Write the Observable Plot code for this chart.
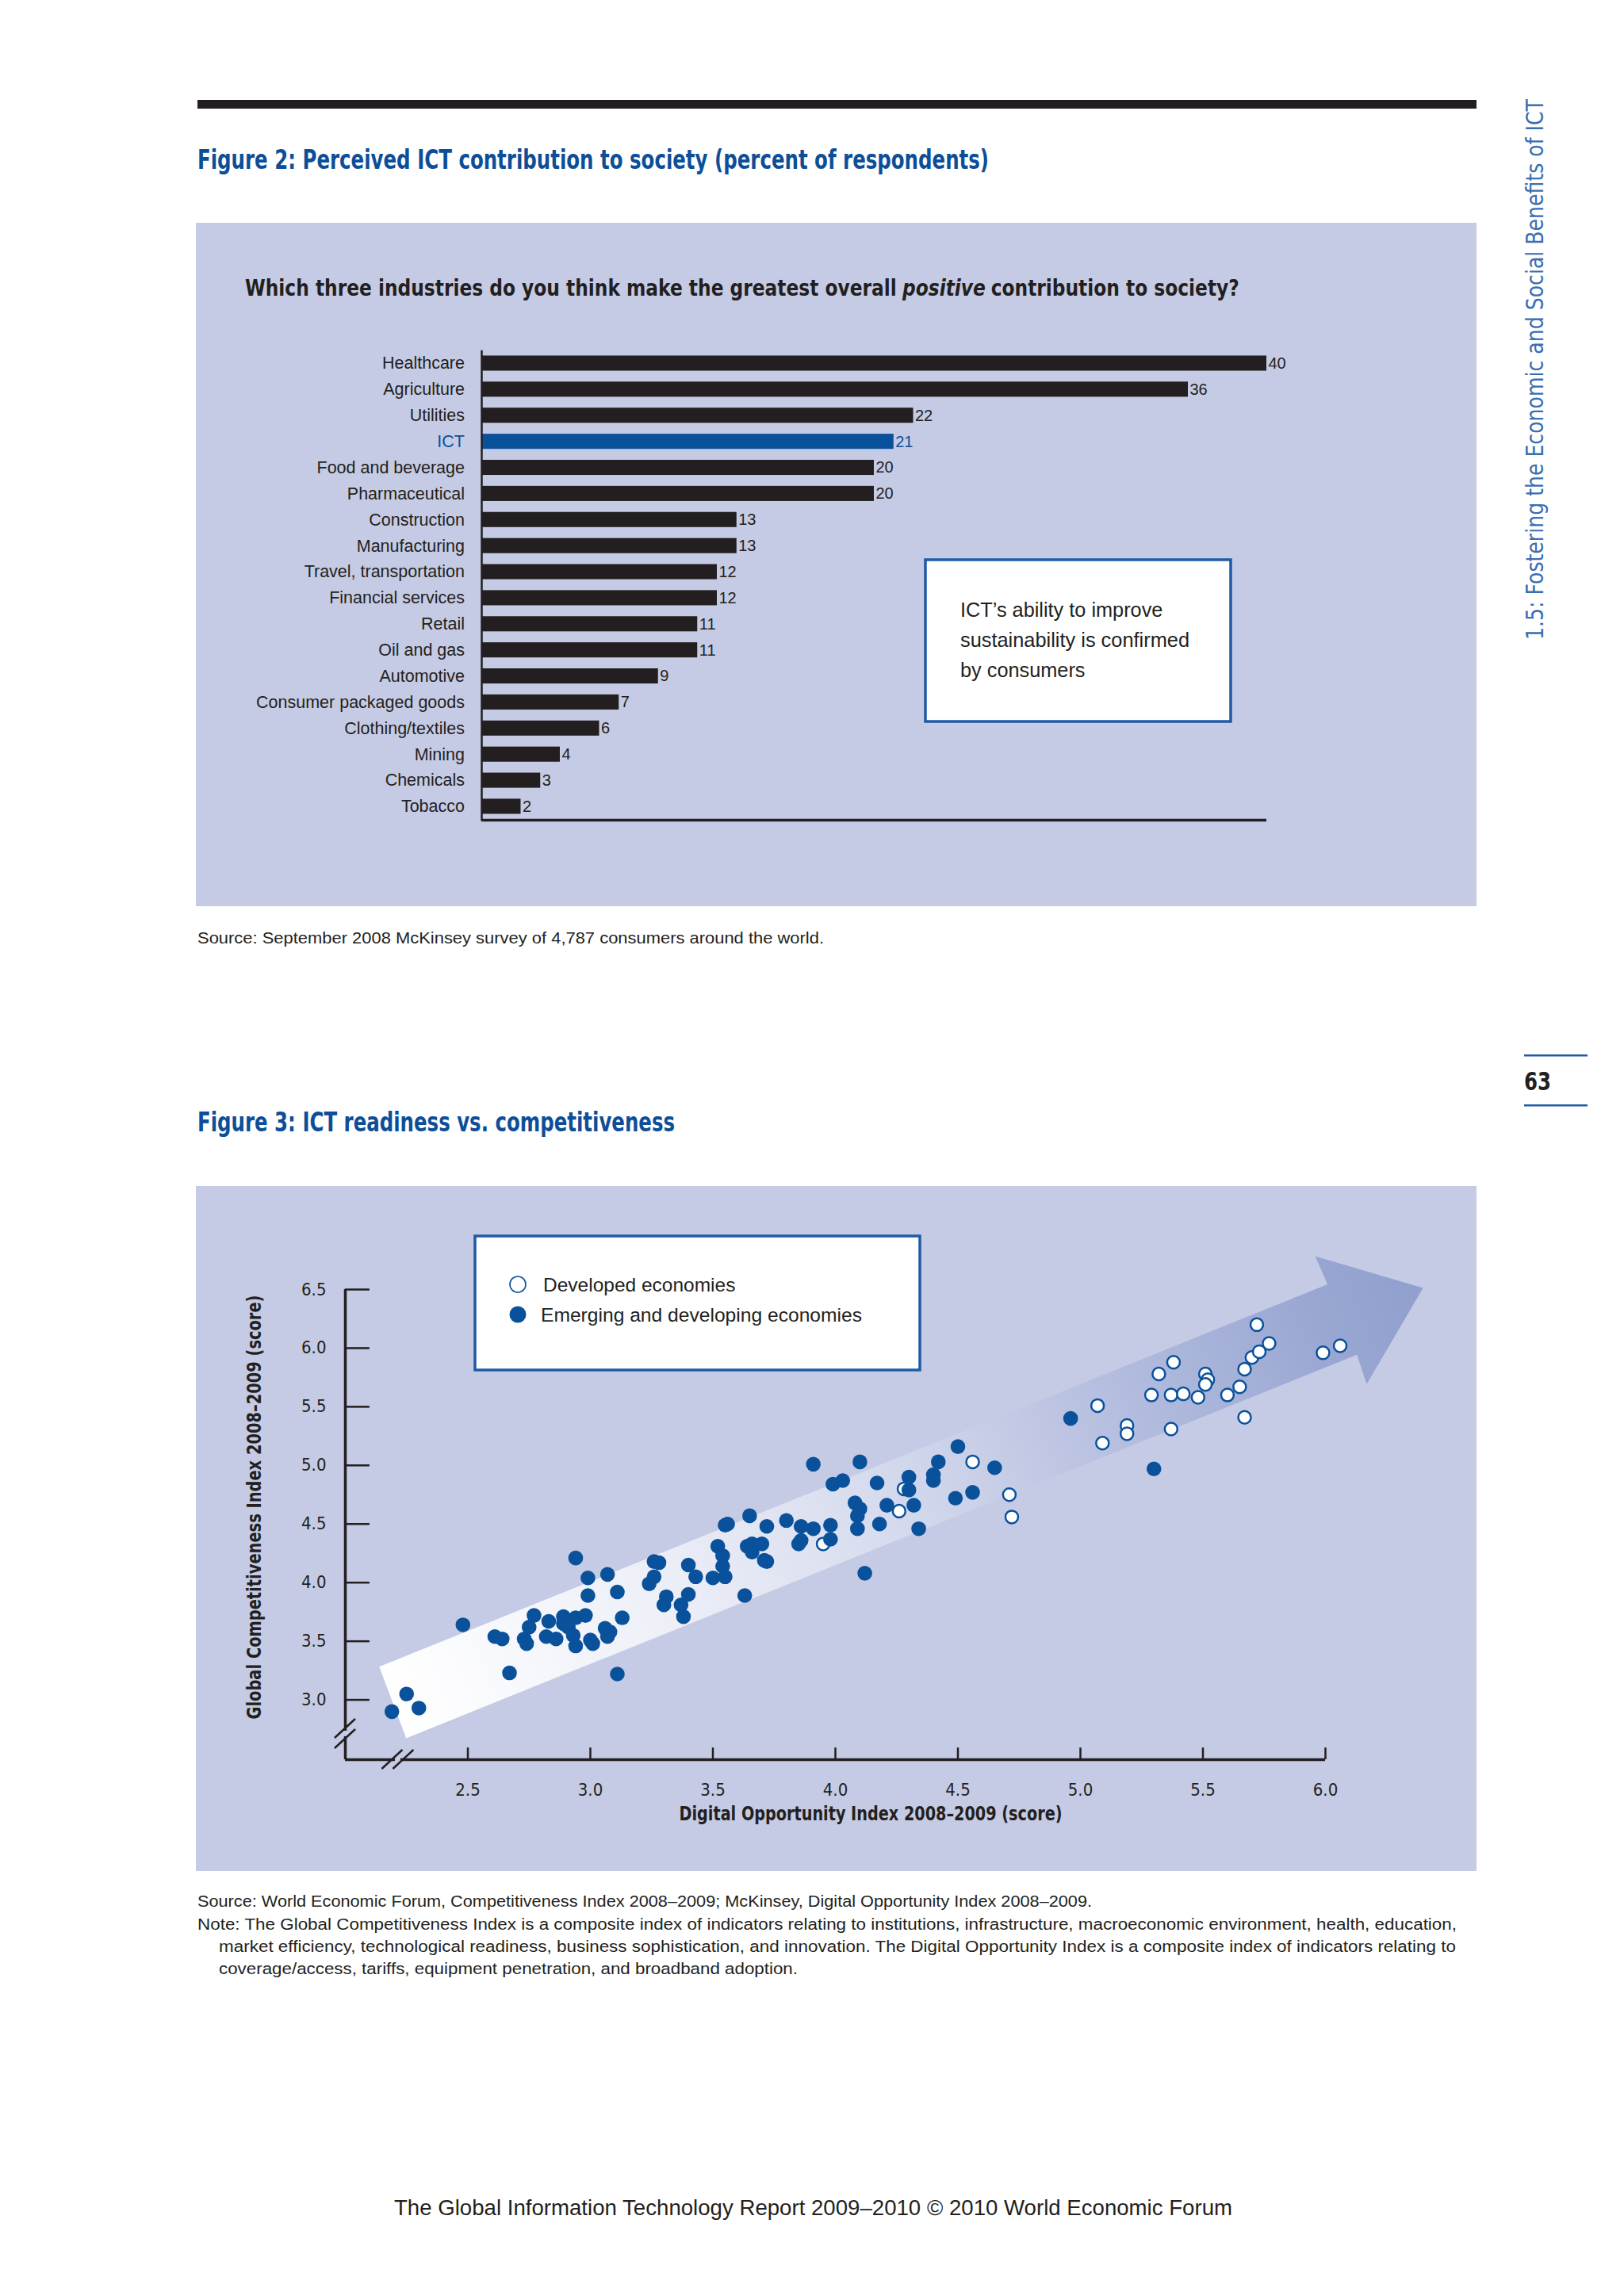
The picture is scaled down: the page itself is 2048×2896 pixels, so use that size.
<!DOCTYPE html>
<html><head><meta charset="utf-8">
<script src="https://cdn.jsdelivr.net/npm/d3@7"></script>
<script src="https://cdn.jsdelivr.net/npm/@observablehq/plot@0.6"></script>
<style>
html,body{margin:0;padding:0;background:#fff;}
#page{position:relative;width:2048px;height:2896px;overflow:hidden;background:#fff;}
.abs{position:absolute;}
</style></head><body><div id="page"></div>
<script>
// ---------- Figure 2 data ----------
const industries = ["Healthcare","Agriculture","Utilities","ICT","Food and beverage","Pharmaceutical","Construction","Manufacturing","Travel, transportation","Financial services","Retail","Oil and gas","Automotive","Consumer packaged goods","Clothing/textiles","Mining","Chemicals","Tobacco"];
const shares = [40,36,22,21,20,20,13,13,12,12,11,11,9,7,6,4,3,2];
const highlighted = "ICT";

// ---------- Figure 3 data ----------
const developedDOI = [3.95,4.26,4.28,4.56,4.71,4.72,5.07,5.09,5.19,5.19,5.37,5.29,5.32,5.38,5.37,5.42,5.48,5.51,5.52,5.51,5.60,5.65,5.67,5.67,5.70,5.73,5.72,5.77,5.99,6.06];
const developedGCI = [4.33,4.61,4.80,5.03,4.75,4.56,5.51,5.19,5.34,5.27,5.31,5.60,5.78,5.88,5.60,5.61,5.58,5.78,5.73,5.69,5.60,5.67,5.41,5.82,5.92,5.97,6.20,6.04,5.96,6.02];
const emergingDOI = [2.19,2.25,2.30,2.48,2.61,2.64,2.67,2.73,2.74,2.75,2.77,2.82,2.83,2.86,2.89,2.89,2.91,2.93,2.94,2.94,2.98,2.94,2.99,2.99,3.00,3.01,3.07,3.06,3.08,3.07,3.11,3.13,3.11,3.26,3.28,3.26,3.24,3.31,3.30,3.40,3.43,3.40,3.37,3.38,3.50,3.52,3.54,3.54,3.55,3.55,3.56,3.63,3.65,3.64,3.66,3.66,3.70,3.71,3.72,3.72,3.80,3.86,3.91,3.86,3.85,3.91,3.98,3.98,3.99,4.03,4.10,4.08,4.10,4.09,4.09,4.12,4.17,4.18,4.21,4.30,4.30,4.32,4.34,4.40,4.40,4.42,4.50,4.49,4.56,4.65,4.96,5.30];
const emergingGCI = [2.90,3.05,2.93,3.64,3.54,3.52,3.23,3.52,3.48,3.62,3.72,3.54,3.67,3.52,3.71,3.65,3.62,3.55,3.46,3.70,3.72,4.21,4.04,3.89,3.51,3.48,4.07,3.61,3.58,3.54,3.92,3.70,3.22,4.18,4.17,4.05,3.99,3.88,3.81,4.15,4.05,3.90,3.81,3.71,4.04,4.31,4.23,4.14,4.05,4.49,4.50,3.89,4.57,4.31,4.33,4.26,4.33,4.19,4.18,4.48,4.53,4.48,4.46,4.36,4.33,5.01,4.49,4.37,4.84,4.87,5.03,4.68,4.63,4.57,4.46,4.08,4.85,4.50,4.66,4.90,4.79,4.66,4.46,4.92,4.87,5.03,5.16,4.72,4.77,4.98,5.40,4.97];
const xTicks = [2.5,3.0,3.5,4.0,4.5,5.0,5.5,6.0];
const yTicks = [3.0,3.5,4.0,4.5,5.0,5.5,6.0,6.5];
const seriesNames = ["Developed economies","Emerging and developing economies"];
// decorative trend arrow outline, in data units (DOI, GCI)
const trendArrow = [[2.14,3.28],[6.01,6.54],[5.96,6.78],[6.40,6.51],[6.17,5.69],[6.13,5.94],[2.25,2.67]];

// ---------- styles ----------
const FONT = '"Liberation Sans", Arial, Helvetica, sans-serif';
const COND = '"Liberation Sans Narrow", "DejaVu Sans Condensed", "Liberation Sans", Arial, sans-serif';
const INK = "#231f20";
const BLUE = "#0a519c";
const TITLEBLUE = "#0d4e98";
const FRAMEBLUE = "#1f5ba5";
const PANEL = "#c5cbe4";

const page = d3.select("#page");
function box(x, y, w, h, bg) {
  return page.append("div").attr("class","abs")
    .style("left", x+"px").style("top", y+"px").style("width", w+"px").style("height", h+"px").style("background", bg);
}
// top rule and panels
box(249, 126, 1613, 11, INK);
box(247, 281, 1615, 862, PANEL);
box(247, 1496, 1615, 864, PANEL);

// ---------- Figure 2: bar chart ----------
const barData = industries.map((c, i) => ({category: c, share: shares[i]}));
const colorOf = d => d.category === highlighted ? BLUE : INK;
const barChart = Plot.plot({
  width: 1615, height: 862,
  marginLeft: 360, marginRight: 265, marginTop: 153.65, marginBottom: 102.7,
  style: {background: "transparent", fontFamily: FONT, overflow: "visible"},
  x: {domain: [0, 40], axis: null},
  y: {domain: industries, paddingInner: 0.42, paddingOuter: 0.42, round: false, axis: null},
  color: {type: "identity"},
  marks: [
    Plot.barX(barData, {x: "share", y: "category", fill: colorOf}),
    Plot.ruleX([0], {stroke: INK, strokeWidth: 2.5, insetTop: 7, insetBottom: 5}),
    Plot.ruleY([industries[industries.length - 1]], {x1: 0, x2: 40, dy: 17, stroke: INK, strokeWidth: 3.5}),
    Plot.text(barData, {x: 0, y: "category", text: "category", dx: -21.5, textAnchor: "end", fontSize: 21.5, fill: colorOf}),
    Plot.text(barData, {x: "share", y: "category", text: d => String(d.share), dx: 2, textAnchor: "start", fontSize: 20, fill: colorOf})
  ]
});
page.append("div").attr("class","abs").style("left","247px").style("top","281px").node().appendChild(barChart);

// ---------- Figure 3: scatter ----------
const developed = developedDOI.map((d, i) => ({doi: d, gci: developedGCI[i]}));
const emerging = emergingDOI.map((d, i) => ({doi: d, gci: emergingGCI[i]}));
const xMin = 2.0, yMin = 2.49;

function arrowMark(index, scales) {
  const {x, y} = scales;
  const pts = trendArrow.map(([a, b]) => [x(a), y(b)]);
  const g = d3.create("svg:g");
  const tail = [(pts[0][0] + pts[6][0]) / 2, (pts[0][1] + pts[6][1]) / 2];
  const tip = pts[3];
  const grad = g.append("defs").append("linearGradient").attr("id", "trendGrad")
    .attr("gradientUnits", "userSpaceOnUse")
    .attr("x1", tail[0]).attr("y1", tail[1]).attr("x2", tip[0]).attr("y2", tip[1]);
  [[0, "#ffffff"], [0.25, "#eef0f8"], [0.45, "#d9deef"], [0.6, "#c4cbe5"], [0.75, "#aeb8dc"], [0.9, "#99a7d2"], [1, "#909fcd"]]
    .forEach(([o, c]) => grad.append("stop").attr("offset", o).attr("stop-color", c));
  g.append("path").attr("d", "M" + pts.map(p => p.join(",")).join("L") + "Z").attr("fill", "url(#trendGrad)");
  return g.node();
}
function breakMarks(index, scales) {
  const {x, y} = scales;
  const g = d3.create("svg:g");
  const slash = (cx, cy) => g.append("line").attr("x1", cx - 13).attr("y1", cy + 12).attr("x2", cx + 13).attr("y2", cy - 12)
    .attr("stroke", INK).attr("stroke-width", 2.5);
  // on the y axis
  const ax = x(xMin), ay = y(2.71);
  g.append("rect").attr("x", ax - 3).attr("y", ay - 3.5).attr("width", 6).attr("height", 7).attr("fill", PANEL);
  slash(ax, ay - 6.5); slash(ax, ay + 6.5);
  // on the x axis
  const bx = x(2.215), by = y(yMin);
  g.append("rect").attr("x", bx - 3.5).attr("y", by - 3).attr("width", 7).attr("height", 6).attr("fill", PANEL);
  slash(bx - 7, by); slash(bx + 7, by);
  return g.node();
}

const scatter = Plot.plot({
  width: 1615, height: 864,
  marginLeft: 188, marginRight: 191, marginTop: 130, marginBottom: 141,
  style: {background: "transparent", fontFamily: FONT, overflow: "visible"},
  x: {domain: [xMin, 6.0]},
  y: {domain: [yMin, 6.5]},
  marks: [
    arrowMark,
    Plot.ruleX([xMin], {y1: yMin, y2: 6.5, stroke: INK, strokeWidth: 3.5}),
    Plot.ruleY([yMin], {x1: xMin, x2: 6.0, stroke: INK, strokeWidth: 3.5}),
    Plot.ruleY(yTicks, {x1: xMin, x2: xMin + 0.1, stroke: INK, strokeWidth: 2.5}),
    Plot.ruleX(xTicks, {y1: yMin, y2: yMin + 0.1, stroke: INK, strokeWidth: 2.5}),
    breakMarks,
    Plot.axisY({ticks: yTicks, tickSize: 0, tickPadding: 24, tickFormat: d3.format(".1f"), fontSize: 22, fontFamily: COND, fill: INK, label: null}),
    Plot.axisX({ticks: xTicks, tickSize: 0, tickPadding: 30, tickFormat: d3.format(".1f"), fontSize: 22, fontFamily: COND, fill: INK, label: null}),
    Plot.dot(developed, {x: "doi", y: "gci", r: 8, fill: "white", stroke: BLUE, strokeWidth: 2.5}),
    Plot.dot(emerging, {x: "doi", y: "gci", r: 9.3, fill: BLUE, stroke: "none"})
  ]
});
page.append("div").attr("class","abs").style("left","247px").style("top","1496px").node().appendChild(scatter);

// ---------- overlay: page texts, boxes, legend ----------
const ov = page.append("svg").attr("class","abs").attr("width", 2048).attr("height", 2896)
  .style("left","0px").style("top","0px").style("pointer-events","none");
function txt(s, x, y, o = {}, parent = ov) {
  const t = parent.append("text").attr("x", x).attr("y", y)
    .attr("font-size", o.size || 20).attr("font-weight", o.weight || "normal")
    .attr("fill", o.color || INK).attr("font-family", o.family || FONT)
    .attr("text-anchor", o.anchor || "start");
  if (o.italic) t.attr("font-style", "italic");
  if (o.width) t.attr("textLength", o.width).attr("lengthAdjust", "spacingAndGlyphs");
  if (o.rotate) t.attr("transform", `rotate(${o.rotate},${x},${y})`);
  t.text(s);
  return t;
}
// question line made of three runs (middle one italic), fitted to the measured width
function runLine(parts, x, y, size, targetWidth) {
  const g = ov.append("g");
  const gap = 0.26 * size;
  let cx = 0;
  parts.forEach(([s, italic]) => {
    const t = txt(s, cx, 0, {size, weight: "bold", family: COND, italic}, g);
    cx += t.node().getComputedTextLength() + gap;
  });
  const k = targetWidth / (cx - gap);
  g.attr("transform", `translate(${x},${y}) scale(${k},1)`);
}
// Figure 2
txt("Figure 2: Perceived ICT contribution to society (percent of respondents)", 249, 213, {size: 34, weight: "bold", color: TITLEBLUE, family: COND, width: 998});
runLine([["Which three industries do you think make the greatest overall", false], ["positive", true], ["contribution to society?", false]], 309, 373, 27.5, 1254);
ov.append("rect").attr("x", 1167).attr("y", 706).attr("width", 385).attr("height", 204).attr("fill", "white").attr("stroke", FRAMEBLUE).attr("stroke-width", 3.5);
txt("ICT’s ability to improve", 1211, 778, {size: 25.3});
txt("sustainability is confirmed", 1211, 816, {size: 25.3, width: 289});
txt("by consumers", 1211, 854, {size: 25.3});
txt("Source: September 2008 McKinsey survey of 4,787 consumers around the world.", 249, 1190, {size: 21, width: 790});
// side furniture
txt("1.5: Fostering the Economic and Social Benefits of ICT", 1946, 807, {size: 31, color: "#3a6fb2", family: COND, width: 682, rotate: -90});
ov.append("rect").attr("x", 1922).attr("y", 1330).attr("width", 80).attr("height", 2.5).attr("fill", FRAMEBLUE);
ov.append("rect").attr("x", 1922).attr("y", 1393).attr("width", 80).attr("height", 2.5).attr("fill", FRAMEBLUE);
txt("63", 1922, 1375, {size: 32, weight: "bold", family: COND, width: 34});
// Figure 3
txt("Figure 3: ICT readiness vs. competitiveness", 249, 1427, {size: 34, weight: "bold", color: TITLEBLUE, family: COND, width: 602});
ov.append("rect").attr("x", 599).attr("y", 1559).attr("width", 561).attr("height", 169).attr("fill", "white").attr("stroke", FRAMEBLUE).attr("stroke-width", 3.5);
ov.append("circle").attr("cx", 653).attr("cy", 1620).attr("r", 10).attr("fill", "white").attr("stroke", BLUE).attr("stroke-width", 1.6);
ov.append("circle").attr("cx", 653).attr("cy", 1658).attr("r", 10.5).attr("fill", BLUE);
txt(seriesNames[0], 685, 1629, {size: 24.5});
txt(seriesNames[1], 682, 1667, {size: 24.5, width: 405});
txt("Global Competitiveness Index 2008–2009 (score)", 329, 1901, {size: 25, weight: "bold", family: COND, width: 535, anchor: "middle", rotate: -90});
txt("Digital Opportunity Index 2008–2009 (score)", 1098, 2296, {size: 25, weight: "bold", family: COND, width: 483, anchor: "middle"});
txt("Source: World Economic Forum, Competitiveness Index 2008–2009; McKinsey, Digital Opportunity Index 2008–2009.", 249, 2405, {size: 20.5, width: 1128});
txt("Note: The Global Competitiveness Index is a composite index of indicators relating to institutions, infrastructure, macroeconomic environment, health, education,", 249, 2433.5, {size: 20.5, width: 1588});
txt("market efficiency, technological readiness, business sophistication, and innovation. The Digital Opportunity Index is a composite index of indicators relating to", 276, 2462, {size: 20.5, width: 1560});
txt("coverage/access, tariffs, equipment penetration, and broadband adoption.", 276, 2490, {size: 20.5, width: 730});
// footer
txt("The Global Information Technology Report 2009–2010 © 2010 World Economic Forum", 497, 2794, {size: 28.5, width: 1057});
</script>
</body></html>
